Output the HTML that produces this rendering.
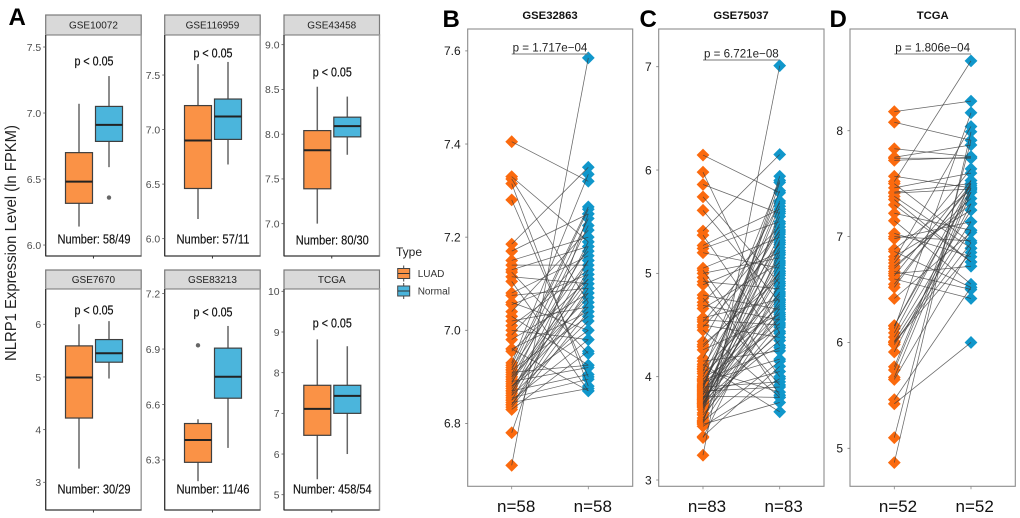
<!DOCTYPE html>
<html lang="en">
<head>
<meta charset="utf-8">
<title>NLRP1 expression figure</title>
<style>
html,body{margin:0;padding:0;background:#fff;width:1020px;height:518px;overflow:hidden}
svg{display:block;font-family:"Liberation Sans",sans-serif;filter:blur(0.35px)}
</style>
</head>
<body>
<svg id="fig" xmlns="http://www.w3.org/2000/svg" width="1020" height="518" viewBox="0 0 1020 518"></svg>
<script>
// Panel A: boxplot values as [low whisker, Q1, median, Q3, high whisker]
const facetNames = ['GSE10072','GSE116959','GSE43458','GSE7670','GSE83213','TCGA'];
const facetCounts = ['Number: 58/49','Number: 57/11','Number: 80/30','Number: 30/29','Number: 11/46','Number: 458/54'];
const facetTicks = [
  ['6.0','6.5','7.0','7.5'],
  ['6.0','6.5','7.0','7.5'],
  ['7.0','7.5','8.0','8.5','9.0'],
  ['3','4','5','6'],
  ['6.3','6.6','6.9','7.2'],
  ['5','6','7','8','9','10']
];
const facetDomains = [
  [5.917,7.591],[5.841,7.867],[6.639,9.108],
  [2.474,6.670],[6.029,7.225],[4.624,10.057]
];
const luadStats = [
  [6.14,6.316,6.48,6.70,7.07],
  [6.18,6.46,6.90,7.22,7.60],
  [7.00,7.39,7.82,8.04,8.53],
  [3.26,4.22,4.99,5.59,6.00],
  [6.185,6.287,6.408,6.497,6.52],
  [5.38,6.46,7.11,7.69,8.82]
];
const normalStats = [
  [6.59,6.785,6.91,7.05,7.28],
  [6.68,6.91,7.12,7.28,7.62],
  [7.77,7.97,8.09,8.19,8.42],
  [4.97,5.28,5.45,5.71,6.06],
  [6.365,6.634,6.75,6.905,7.025],
  [6.00,7.00,7.43,7.69,8.65]
];
const luadOutliers = [[],[],[],[],[6.92],[]];
const normalOutliers = [[6.36],[],[],[],[],[]];

// Panels B-D: paired expression values
const pairedTitles = ['GSE32863','GSE75037','TCGA'];
const pairedPValues = ['p = 1.717e\u221204','p = 6.721e\u221208','p = 1.806e\u221204'];
const pairedCounts = ['n=58','n=83','n=52'];
const pairedTicks = [
  ['6.8','7.0','7.2','7.4','7.6'],
  ['3','4','5','6','7'],
  ['5','6','7','8']
];
const pairedDomains = [[6.665,7.647],[2.939,7.365],[4.641,8.961]];
const luadB = [7.405,7.33,7.325,7.315,7.28,7.185,7.17,7.15,7.14,7.13,7.125,7.115,7.105,7.08,7.075,7.06,7.055,7.04,7.03,7.02,7.01,7.0,6.99,6.98,6.96,6.955,6.93,6.925,6.92,6.915,6.91,6.905,6.9,6.895,6.89,6.885,6.88,6.875,6.87,6.865,6.86,6.855,6.85,6.845,6.84,6.835,6.83,6.915,6.9,6.89,6.88,6.87,6.86,6.85,6.84,6.78,6.71,6.96];
const normalB = [7.32,7.19,7.06,6.88,6.90,7.35,7.25,7.20,7.14,7.18,6.95,7.10,6.87,7.16,7.09,7.0,7.12,7.215,6.925,7.05,7.13,6.98,7.17,7.08,7.04,7.11,7.335,7.265,7.15,7.03,6.925,7.24,7.07,7.12,6.92,7.225,7.05,7.1,6.905,7.19,7.02,6.895,7.13,6.875,7.09,7.04,6.955,7.26,7.18,7.11,7.0,7.08,7.15,6.98,7.06,7.25,7.585,6.87];
const luadC = [6.145,5.98,5.86,5.74,5.61,5.41,5.37,5.27,5.24,5.2,5.05,5.03,5.0,4.96,4.92,4.89,4.79,4.76,4.72,4.69,4.66,4.57,4.55,4.53,4.5,4.48,4.45,4.34,4.31,4.29,4.26,4.18,4.15,4.1,4.08,4.05,4.03,4.0,3.98,3.97,3.95,3.93,3.92,3.9,3.88,3.87,3.85,3.84,3.83,3.82,3.81,3.8,3.79,3.78,3.77,3.76,3.75,3.74,3.73,3.72,3.71,3.65,3.63,3.58,3.57,3.56,3.55,3.54,3.42,3.41,3.24,4.12,4.07,3.96,3.91,3.89,3.86,3.78,3.74,3.7,3.68,3.6,3.52];
const normalC = [5.78,4.42,5.58,4.9,4.72,6.15,4.3,5.62,5.5,5.05,5.35,4.0,5.15,3.82,4.85,5.2,4.65,3.92,5.45,4.55,5.1,4.75,4.5,5.4,4.38,5.28,3.8,5.68,4.95,5.0,4.6,5.42,4.25,5.3,4.8,5.9,4.68,5.48,4.48,5.02,4.17,5.25,4.7,3.95,5.8,4.62,5.12,4.05,4.88,5.38,3.8,4.58,5.08,4.78,5.55,4.42,4.98,4.35,5.32,5.18,4.82,5.94,4.52,5.22,4.15,5.6,4.66,3.75,4.1,4.92,7.01,3.66,3.85,4.28,5.7,5.65,3.9,4.56,5.02,4.44,5.88,4.74,3.98];
const luadD = [8.18,8.08,7.83,7.75,7.74,7.72,7.57,7.52,7.5,7.46,7.41,7.38,7.3,7.22,7.15,7.03,6.98,6.86,6.81,6.78,6.75,6.72,6.67,6.63,6.6,6.55,6.52,6.415,6.155,6.13,6.09,6.05,6.01,6.0,5.98,5.91,5.77,5.74,5.67,5.65,5.46,5.42,5.1,4.865,7.42,7.35,7.0,6.88,6.7,6.16,6.0,6.65];
const normalD = [8.28,7.91,7.755,7.865,7.74,7.75,7.46,8.66,6.94,7.6,7.45,6.89,6.76,7.06,6.55,6.81,7.14,6.52,7.25,8.04,7.64,7.31,6.5,7.53,6.415,7.48,7.5,7.04,7.5,8.17,7.46,7.25,7.14,6.94,7.06,7.31,7.53,7.46,7.42,6.89,6.52,6.0,7.91,7.99,7.5,6.76,6.96,7.44,7.36,7.42,6.85,6.72];

const NS = 'http://www.w3.org/2000/svg';
const fig = document.getElementById('fig');
const ORANGE = '#fa9246', BLUE = '#4bb5dc', MARK_O = '#fb6a0e', MARK_B = '#1097cb';

function el(parent, tag, attrs, txt) {
  const node = document.createElementNS(NS, tag);
  for (const k in attrs) node.setAttribute(k, attrs[k]);
  if (txt !== undefined) node.textContent = txt;
  parent.appendChild(node);
  return node;
}
function yScale(domain, top, bottom) {
  return v => bottom - (v - domain[0]) / (domain[1] - domain[0]) * (bottom - top);
}

// ---------- Panel A ----------
const facetLeft = [45.7, 164.7, 284, 45.7, 164.7, 284];
const facetWidth = 95.5;
const facetTop = [35, 35, 35, 289, 289, 289];
const facetBottom = [256, 256, 256, 510, 510, 510];
const stripTop = [15, 15, 15, 270, 270, 270];
const pLabelY = [61, 53, 72, 310, 312, 323];
const countLabelY = [239, 239, 240, 489, 489, 489];

function drawBox(g, stats, outliers, cx, y, fill, label) {
  const w = 27;
  const whisker = el(g, 'line', {x1: cx, x2: cx, y1: y(stats[0]), y2: y(stats[4]), stroke: '#666', 'stroke-width': 1.5});
  
  
  const box = el(g, 'rect', {x: cx - w / 2, y: y(stats[3]), width: w, height: y(stats[1]) - y(stats[3]), fill: fill, stroke: '#3f3f3f', 'stroke-width': 1.2});
  
  
  const med = el(g, 'line', {x1: cx - w / 2, x2: cx + w / 2, y1: y(stats[2]), y2: y(stats[2]), stroke: '#222', 'stroke-width': 2});
  
  
  outliers.forEach(o => {
    const dot = el(g, 'circle', {cx: cx, cy: y(o), r: 2.2, fill: '#666'});
    
    
  });
}

facetNames.forEach((name, i) => {
  const L = facetLeft[i], T = facetTop[i], B = facetBottom[i], R = L + facetWidth;
  const y = yScale(facetDomains[i], T, B);
  const g = el(fig, 'g', {});
  
  

  const strip = el(g, 'rect', {x: L, y: stripTop[i], width: facetWidth, height: T - stripTop[i], fill: '#d9d9d9', stroke: '#7a7a7a', 'stroke-width': 1.2});
  
  
  const stripText = el(g, 'text', {x: (L + R) / 2, y: (stripTop[i] + T) / 2 + 3.6, 'text-anchor': 'middle', 'font-size': 10, fill: '#222'}, name);
  
  

  const frame = el(g, 'rect', {x: L, y: T, width: facetWidth, height: B - T, fill: '#fff', stroke: '#9a9a9a', 'stroke-width': 1.4});
  
  
  const axisY = el(g, 'line', {x1: L, x2: L, y1: T, y2: B, stroke: '#2a2a2a', 'stroke-width': 1.1});
  
  
  const axisX = el(g, 'line', {x1: L, x2: R, y1: B, y2: B, stroke: '#2a2a2a', 'stroke-width': 1.1});
  
  
  const xTick = el(g, 'line', {x1: (L + R) / 2, x2: (L + R) / 2, y1: B, y2: B + 2.5, stroke: '#333', 'stroke-width': 1});
  
  

  facetTicks[i].forEach(t => {
    const tick = el(g, 'line', {x1: L - 2.5, x2: L, y1: y(+t), y2: y(+t), stroke: '#555', 'stroke-width': 0.8});
    
    
    const lab = el(g, 'text', {x: L - 4.5, y: y(+t) + 3.8, 'text-anchor': 'end', 'font-size': 10.4, fill: '#4d4d4d'}, t);
    
    
  });

  drawBox(g, luadStats[i], luadOutliers[i], L + 33.3, y, ORANGE, 'luad');
  drawBox(g, normalStats[i], normalOutliers[i], L + 63.3, y, BLUE, 'normal');

  const p = el(g, 'text', {x: L + 48.3, y: pLabelY[i] + 4.3, 'text-anchor': 'middle', 'font-size': 12.5, textLength: 39, lengthAdjust: 'spacingAndGlyphs', fill: '#111', stroke: '#111', 'stroke-width': 0.2}, 'p < 0.05');
  
  
  const n = el(g, 'text', {x: L + 48.3, y: countLabelY[i] + 4.3, 'text-anchor': 'middle', 'font-size': 12.5, textLength: facetCounts[i].length * 5.62, lengthAdjust: 'spacingAndGlyphs', fill: '#111', stroke: '#111', 'stroke-width': 0.15}, facetCounts[i]);
  
  
});

const yTitle = el(fig, 'text', {transform: 'translate(16,243) rotate(-90)', 'text-anchor': 'middle', 'font-size': 16, textLength: 236, lengthAdjust: 'spacingAndGlyphs', fill: '#222'}, 'NLRP1 Expression Level (ln FPKM)');



// Legend
const legendTitle = el(fig, 'text', {x: 396, y: 256, 'font-size': 12, fill: '#222'}, 'Type');


[['LUAD', ORANGE, 273.5], ['Normal', BLUE, 291]].forEach(entry => {
  const g = el(fig, 'g', {});
  
  
  const whisk = el(g, 'line', {x1: 403.7, x2: 403.7, y1: entry[2] - 8, y2: entry[2] + 8, stroke: '#444', 'stroke-width': 1});
  
  
  const key = el(g, 'rect', {x: 397.7, y: entry[2] - 5, width: 12, height: 10, fill: entry[1], stroke: '#444', 'stroke-width': 1});
  
  
  const keyMid = el(g, 'line', {x1: 397.7, x2: 409.7, y1: entry[2], y2: entry[2], stroke: '#333', 'stroke-width': 1});
  
  
  const lab = el(g, 'text', {x: 417.7, y: entry[2] + 3.6, 'font-size': 10, fill: '#333'}, entry[0]);
  
  
});

// ---------- Panels B, C, D ----------
const pairedLeft = [467.7, 658.7, 850];
const pairedRight = [632.7, 824, 1015.3];
const pairedXLuad = [511.7, 703, 894.3];
const pairedXNormal = [588.3, 779.7, 971];
const pairedTop = 29, pairedBottom = 486.3;
const bracketY = [54, 60, 54];
const nameCenter = [550, 741, 932.7];
const countOffset = [4.5, 4, 3.7];
const luadSeries = [luadB, luadC, luadD];
const normalSeries = [normalB, normalC, normalD];

pairedTitles.forEach((title, i) => {
  const L = pairedLeft[i], R = pairedRight[i];
  const y = yScale(pairedDomains[i], pairedTop, pairedBottom);
  const xa = pairedXLuad[i], xb = pairedXNormal[i];
  const g = el(fig, 'g', {});
  
  

  const t = el(g, 'text', {x: nameCenter[i], y: 19, 'text-anchor': 'middle', 'font-size': 11.3, 'font-weight': 'bold', fill: '#111'}, title);
  
  
  const frame = el(g, 'rect', {x: L, y: pairedTop, width: R - L, height: pairedBottom - pairedTop, fill: '#fff', stroke: '#8c8c8c', 'stroke-width': 1.1});
  
  

  pairedTicks[i].forEach(v => {
    const tick = el(g, 'line', {x1: L - 2.5, x2: L, y1: y(+v), y2: y(+v), stroke: '#777', 'stroke-width': 0.8});
    
    
    const lab = el(g, 'text', {x: L - 7, y: y(+v) + 4.3, 'text-anchor': 'end', 'font-size': 12, fill: '#1a1a1a'}, v);
    
    
  });

  [xa, xb].forEach(x => {
    const tick = el(g, 'line', {x1: x, x2: x, y1: pairedBottom, y2: pairedBottom + 3, stroke: '#888', 'stroke-width': 0.8});
    
    
    const lab = el(g, 'text', {x: x + countOffset[i], y: 512, 'text-anchor': 'middle', 'font-size': 17, fill: '#111'}, pairedCounts[i]);
    
    
  });

  const diamond = (cx, cy, color, name) => {
    const r = 6.4;
    const d = el(g, 'polygon', {points: `${cx},${cy - r} ${cx + r},${cy} ${cx},${cy + r} ${cx - r},${cy}`, fill: color});
    
    
  };
  luadSeries[i].forEach(v => diamond(xa, y(v), MARK_O, 'luad-point'));
  normalSeries[i].forEach(v => diamond(xb, y(v), MARK_B, 'normal-point'));
  luadSeries[i].forEach((v, k) => {
    const line = el(g, 'line', {x1: xa, y1: y(v), x2: xb, y2: y(normalSeries[i][k]), stroke: '#3c3c3c', 'stroke-width': 0.75, 'stroke-opacity': 0.78});
    
    
  });

  const bracket = el(g, 'line', {x1: xa, x2: xb, y1: bracketY[i], y2: bracketY[i], stroke: '#777', 'stroke-width': 1});
  
  
  const p = el(g, 'text', {x: (xa + xb) / 2, y: bracketY[i] - 2.5, 'text-anchor': 'middle', 'font-size': 11.6, fill: '#222'}, pairedPValues[i]);
  
  
});

// Panel letters
[['A', 8.5, 25], ['B', 442.5, 27], ['C', 639.5, 27], ['D', 829.5, 27]].forEach(item => {
  const letter = el(fig, 'text', {x: item[1], y: item[2], 'font-size': 24, 'font-weight': 'bold', fill: '#000'}, item[0]);
  
  
});
</script>
</body>
</html>
